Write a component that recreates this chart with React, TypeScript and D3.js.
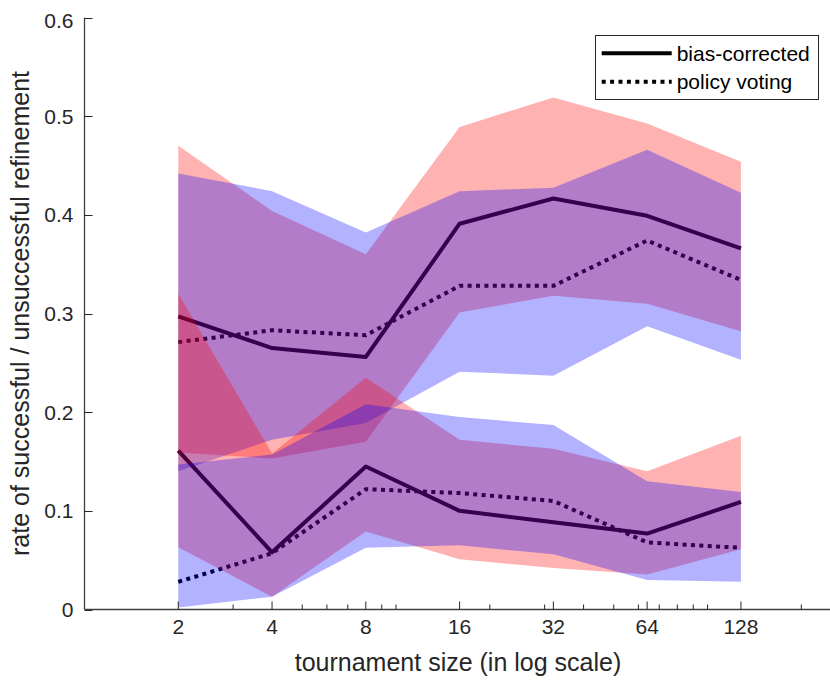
import React from "react";
import * as d3 from "d3";

// Tournament sizes (log2-spaced)
const sizes = [2, 4, 8, 16, 32, 64, 128];

// Mean rates
const biasSuccess = [0.297, 0.265, 0.256, 0.391, 0.4165, 0.399, 0.366];
const votingSuccess = [0.271, 0.283, 0.278, 0.328, 0.328, 0.374, 0.334];
const biasFailure = [0.161, 0.058, 0.145, 0.1, 0.0885, 0.077, 0.109];
const votingFailure = [0.028, 0.057, 0.122, 0.118, 0.11, 0.068, 0.0625];

// Spread bands (upper / lower bounds)
const biasSuccessHi = [0.47, 0.404, 0.36, 0.489, 0.519, 0.4925, 0.4537];
const biasSuccessLo = [0.159, 0.153, 0.17, 0.301, 0.318, 0.31, 0.282];
const votingSuccessHi = [0.442, 0.424, 0.382, 0.424, 0.4274, 0.466, 0.4223];
const votingSuccessLo = [0.14, 0.172, 0.189, 0.241, 0.237, 0.287, 0.253];
const biasFailureHi = [0.32, 0.158, 0.235, 0.172, 0.163, 0.14, 0.176];
const biasFailureLo = [0.063, 0.013, 0.079, 0.051, 0.042, 0.0355, 0.061];
const votingFailureHi = [0.147, 0.157, 0.208, 0.195, 0.187, 0.13, 0.119];
const votingFailureLo = [0.002, 0.013, 0.0625, 0.065, 0.056, 0.03, 0.028];

const yTicks = [0, 0.1, 0.2, 0.3, 0.4, 0.5, 0.6];
const yTickLabels = ["0", "0.1", "0.2", "0.3", "0.4", "0.5", "0.6"];
const xMinorTicks = [3, 5, 6, 7, 9, 10, 20, 30, 40, 50, 60, 70, 80, 90, 100, 200];
const legendLabels = ["bias-corrected", "policy voting"];

const W = 830;
const H = 683;
const FONT = "'Liberation Sans', Arial, Helvetica, sans-serif";
const TEXT = "#262626";

export default function App() {
  const x = d3.scaleLog().base(2).domain([1, 256]).range([84.5, 834.7]);
  const y = d3.scaleLinear().domain([0, 0.6]).range([609.5, 17.5]);

  const line = d3
    .line<number>()
    .x((_, i) => x(sizes[i]))
    .y((d) => y(d));

  const band = (lo: number[], hi: number[]) =>
    d3
      .area<number>()
      .x((_, i) => x(sizes[i]))
      .y0((_, i) => y(lo[i]))
      .y1((_, i) => y(hi[i]))(sizes) || "";

  const bands = [
    { lo: biasSuccessLo, hi: biasSuccessHi, color: "#ff0000" },
    { lo: votingSuccessLo, hi: votingSuccessHi, color: "#0000ff" },
    { lo: biasFailureLo, hi: biasFailureHi, color: "#ff0000" },
    { lo: votingFailureLo, hi: votingFailureHi, color: "#0000ff" },
  ];

  const series = [
    { v: biasSuccess, dotted: false },
    { v: votingSuccess, dotted: true },
    { v: biasFailure, dotted: false },
    { v: votingFailure, dotted: true },
  ];

  const axisX = 84.5;
  const axisY = 609.5;

  return (
    <svg
      width={W}
      height={H}
      style={{ position: "absolute", left: 0, top: 0, background: "#fff" }}
      fontFamily={FONT}
    >
      <rect x={0} y={0} width={W} height={H} fill="#fff" />

      {/* mean curves, underneath the translucent bands */}
      {series.map((s, i) => (
        <path
          key={"l" + i}
          d={line(s.v) || ""}
          fill="none"
          stroke="#000"
          strokeWidth={4}
          strokeDasharray={s.dotted ? "4 4.4" : undefined}
          strokeLinejoin="round"
        />
      ))}

      {/* spread bands */}
      {bands.map((b, i) => (
        <path key={"b" + i} d={band(b.lo, b.hi)} fill={b.color} fillOpacity={0.3} stroke="none" />
      ))}

      {/* y axis */}
      <line x1={axisX} x2={axisX} y1={y(0.6)} y2={axisY} stroke="#404040" strokeWidth={1.3} />
      {yTicks.map((t, i) => (
        <g key={"yt" + i}>
          <line x1={axisX} x2={axisX + 8} y1={Math.round(y(t)) + 0.5} y2={Math.round(y(t)) + 0.5} stroke="#262626" strokeWidth={1} />
          <text
            x={73.5}
            y={Math.max(y(t), 20.5)}
            textAnchor="end"
            dominantBaseline="central"
            fontSize={21}
            fill={TEXT}
          >
            {yTickLabels[i]}
          </text>
        </g>
      ))}

      {/* x axis */}
      <line x1={axisX} x2={W} y1={axisY} y2={axisY} stroke="#404040" strokeWidth={1.3} />
      {xMinorTicks.map((t) => (
        <line key={"mx" + t} x1={x(t)} x2={x(t)} y1={axisY} y2={axisY - 5} stroke="#262626" strokeWidth={1} />
      ))}
      {sizes.map((t) => (
        <g key={"xt" + t}>
          <line x1={x(t)} x2={x(t)} y1={axisY} y2={axisY - 8} stroke="#262626" strokeWidth={1} />
          <text x={x(t)} y={633.5} textAnchor="middle" fontSize={21} fill={TEXT}>
            {t}
          </text>
        </g>
      ))}

      {/* axis titles */}
      <text x={458} y={671} textAnchor="middle" fontSize={25} fill={TEXT}>
        tournament size (in log scale)
      </text>
      <text
        transform={`translate(28.5, ${(y(0) + y(0.6)) / 2}) rotate(-90)`}
        textAnchor="middle"
        fontSize={25}
        fill={TEXT}
      >
        rate of successful / unsuccessful refinement
      </text>

      {/* legend */}
      <g>
        <rect x={595.5} y={35.5} width={223} height={64} fill="#fff" stroke="#262626" strokeWidth={1} />
        <line x1={601.7} x2={671.7} y1={53.3} y2={53.3} stroke="#000" strokeWidth={4} />
        <line x1={601.7} x2={671.7} y1={81.7} y2={81.7} stroke="#000" strokeWidth={4} strokeDasharray="4 4.4" />
        <text x={676.7} y={61} fontSize={21} fill="#000">
          {legendLabels[0]}
        </text>
        <text x={676.7} y={89} fontSize={21} fill="#000">
          {legendLabels[1]}
        </text>
      </g>
    </svg>
  );
}
